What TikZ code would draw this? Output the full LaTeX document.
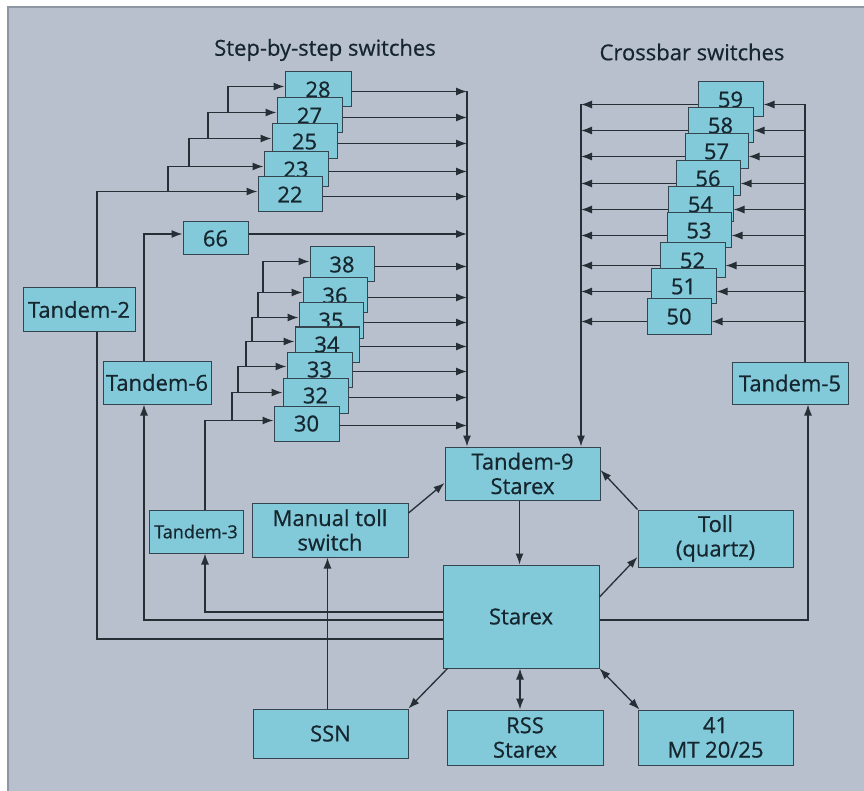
\documentclass[tikz,border=0pt]{standalone}
\usepackage{fontspec}
\setmainfont{Open Sans}[FakeBold=0.6]
\usetikzlibrary{arrows.meta}
\definecolor{bg}{HTML}{B8C0CD}
\definecolor{bgedge}{HTML}{8E96A3}
\definecolor{boxc}{HTML}{82C9D9}
\definecolor{boxl}{HTML}{34454F}
\definecolor{ink}{HTML}{16262E}
\definecolor{wirec}{HTML}{262E36}
\begin{document}
\begin{tikzpicture}[x=1pt,y=-1pt,
  box/.style={draw=boxl, line width=1pt, fill=boxc, text=ink, inner sep=0pt, align=center, font=\fontsize{22}{24.5}\selectfont},
  num/.style={box, minimum width=65pt, minimum height=35pt, font=\fontsize{22}{22}\selectfont},
  wire/.style={draw=wirec, line width=1.3pt},
  arr/.style={wire, -{Latex[length=11pt,width=8pt]}},
  darr/.style={wire, {Latex[length=11pt,width=8pt]}-{Latex[length=11pt,width=8pt]}},
  title/.style={text=ink, font=\fontsize{22}{22}\selectfont}
]
\useasboundingbox (0,0) rectangle (864,791);
\fill[white] (0,0) rectangle (864,791);
\fill[bg] (8,7) rectangle (864,791);
\draw[bgedge, line width=1.5pt] (8,791) -- (8,7) -- (864,7);

% titles
\node[title] (tsbs) at (325,50) {Step-by-step switches};
\node[title] (tcb) at (692,52) {Crossbar switches};

% step-by-step boxes
\node[num, minimum width=66pt] (b28) at (318,89.5) {28};
\node[num] (b27) at (309.5,115.5) {27};
\node[num] (b25) at (304.5,141.5) {25};
\node[num, minimum width=64pt] (b23) at (296,169.5) {23};
\node[num, minimum width=64pt] (b22) at (290,194.5) {22};
\node[num, minimum height=33pt] (b66) at (215.5,238.5) {66};
\node[num, minimum width=64pt] (b38) at (342,264.5) {38};
\node[num, minimum width=64pt] (b36) at (335,295.5) {36};
\node[num, minimum width=64pt] (b35) at (331,320.5) {35};
\node[num, minimum width=64pt] (b34) at (327,344.5) {34};
\node[num] (b33) at (319.5,369.5) {33};
\node[num] (b32) at (315.5,395.5) {32};
\node[num] (b30) at (306.5,423.5) {30};

% crossbar boxes
\node[num] (c59) at (730.5,99.5) {59};
\node[num] (c58) at (720.5,125.5) {58};
\node[num, minimum width=63pt] (c57) at (716.5,151.5) {57};
\node[num, minimum width=64pt] (c56) at (708,178.5) {56};
\node[num] (c54) at (700.5,204.5) {54};
\node[num, minimum width=64pt] (c53) at (699,230.5) {53};
\node[num] (c52) at (692.5,260.5) {52};
\node[num] (c51) at (683.5,286.5) {51};
\node[num, minimum width=64pt] (c50) at (679,316.5) {50};

% main boxes
\node[box, minimum width=112pt, minimum height=43pt] (t2) at (79,309.5) {Tandem-2};
\node[box, minimum width=108pt, minimum height=43pt] (t6) at (157,382.5) {Tandem-6};
\node[box, minimum width=94pt, minimum height=43pt, font=\fontsize{18}{18}\selectfont] (t3) at (196,531.5) {Tandem-3};
\node[box, minimum width=116pt, minimum height=42pt] (t5) at (790,383) {Tandem-5};
\node[box, minimum width=155pt, minimum height=53pt] (t9) at (522.5,473.5) {Tandem-9\\Starex};
\node[box, minimum width=156pt, minimum height=103pt] (st) at (521,616.5) {Starex};
\node[box, minimum width=155pt, minimum height=57pt] (toll) at (715.5,538.5) {Toll\\(quartz)};
\node[box, minimum width=156pt, minimum height=54pt] (man) at (330,530) {Manual toll\\switch};
\node[box, minimum width=155pt, minimum height=49pt] (ssn) at (330.5,733.5) {SSN};
\node[box, minimum width=156pt, minimum height=55pt] (rss) at (525,737.5) {RSS\\Starex};
\node[box, minimum width=155pt, minimum height=55pt] (m41) at (715.5,737.5) {41\\MT 20/25};

% bus and stair x positions
\coordinate (busS) at (467,0);
\coordinate (busCL) at (581,0);
\coordinate (busCR) at (805,0);
\coordinate (k23) at (168,0);
\coordinate (k25) at (189,0);
\coordinate (k27) at (208,0);
\coordinate (k28) at (228,0);
\coordinate (k32) at (232,0);
\coordinate (k33) at (238,0);
\coordinate (k34) at (246,0);
\coordinate (k35) at (252,0);
\coordinate (k36) at (258,0);
\coordinate (k38) at (263,0);

% inputs / outputs of step-by-step boxes
\foreach \b in {22,23,25,27,28,30,32,33,34,35,36,38} {
  \coordinate (i\b) at ([yshift=3pt]b\b.west);
  \coordinate (o\b) at ([yshift=-2pt]b\b.east);
  \draw[arr] (o\b) -- (o\b -| busS);
}
\coordinate (i66) at ([yshift=4.5pt]b66.west);
\coordinate (o66) at ([yshift=4.5pt]b66.east);
\draw[arr] (o66) -- (o66 -| busS);

% staircase from Tandem-2
\draw[arr] ([xshift=18pt]t2.north) |- (i22);
\draw[arr] (k23 |- i22) |- (i23);
\draw[arr] (k25 |- i23) |- (i25);
\draw[arr] (k27 |- i25) |- (i27);
\draw[arr] (k28 |- i27) |- (i28);

% Tandem-6 to 66
\draw[arr] ([xshift=-13pt]t6.north) |- (i66);

% staircase from Tandem-3
\draw[arr] ([xshift=9pt]t3.north) |- (i30);
\draw[arr] (k32 |- i30) |- (i32);
\draw[arr] (k33 |- i32) |- (i33);
\draw[arr] (k34 |- i33) |- (i34);
\draw[arr] (k35 |- i34) |- (i35);
\draw[arr] (k36 |- i35) |- (i36);
\draw[arr] (k38 |- i36) |- (i38);

% step-by-step bus to Tandem-9
\draw[arr] (o28 -| busS) -- (t9.north -| busS);

% crossbar
\foreach \c in {59,58,57,56,54,53,52,51,50} {
  \coordinate (ri\c) at ([yshift=-5pt]c\c.east);
  \coordinate (lo\c) at ([yshift=-5pt]c\c.west);
  \draw[arr] (ri\c -| busCR) -- (ri\c);
  \draw[arr] (lo\c) -- (lo\c -| busCL);
}
\draw[arr] (lo59 -| busCL) -- (t9.north -| busCL);
\draw[wire] (ri59 -| busCR) -- (t5.north -| busCR);

% Starex to tandems on the left
\draw[arr] ([yshift=4.5pt]st.west) -| ([xshift=9pt]t3.south);
\draw[arr] ([yshift=-3.5pt]st.west) -| ([xshift=-13pt]t6.south);
\draw[wire] ([yshift=-22.5pt]st.west) -| ([xshift=18pt]t2.south);

% Starex to Tandem-5
\draw[arr] ([yshift=-3.5pt]st.east) -| ([xshift=18pt]t5.south);

% centre connections
\coordinate (t9s) at ([xshift=-3pt]t9.south);
\draw[arr] (t9s) -- (t9s |- st.north);
\draw[arr] ([yshift=17pt]man.east) -- ([yshift=-9.5pt]t9.west);
\draw[arr] (toll.north west) -- ([yshift=3.5pt]t9.east);
\draw[arr] ([yshift=19.5pt]st.east) -- ([yshift=-18.5pt]toll.west);
\coordinate (sm) at ([xshift=-3pt]ssn.north);
\draw[arr] (sm) -- (sm |- man.south);
\draw[arr] ([xshift=5pt]st.south west) -- (ssn.north east);
\coordinate (sr) at ([xshift=-1pt]st.south);
\draw[darr] (sr) -- (sr |- rss.north);
\draw[darr] (st.south east) -- ([xshift=2pt]m41.north west);
\end{tikzpicture}
\end{document}
